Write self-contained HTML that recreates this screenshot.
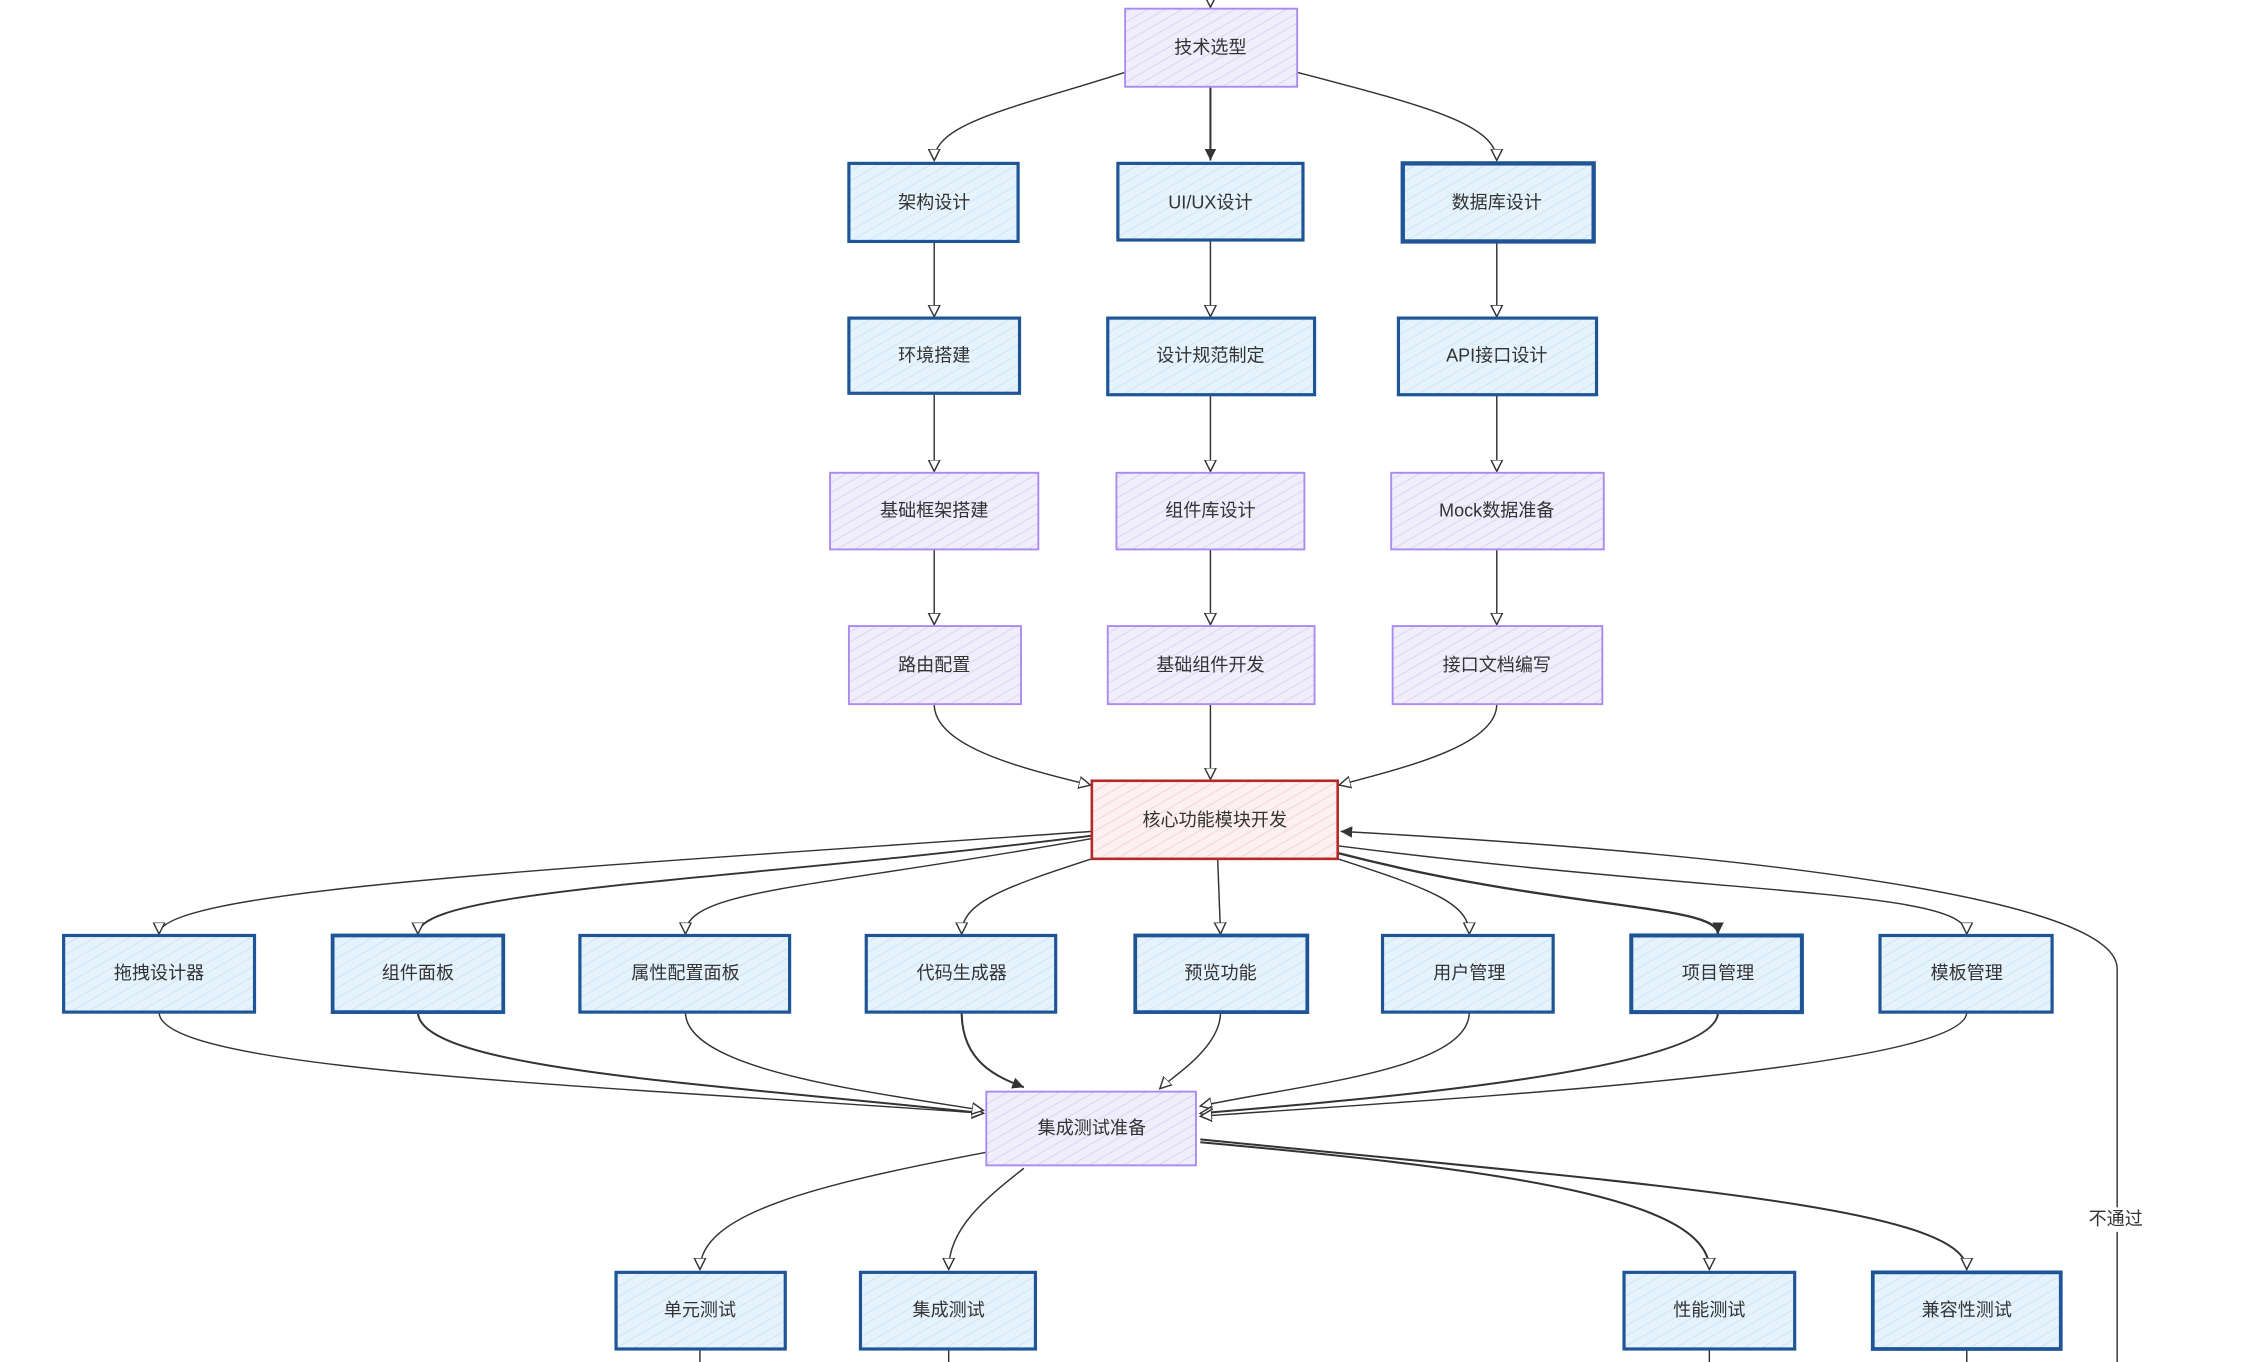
<!DOCTYPE html>
<html><head><meta charset="utf-8"><style>
html,body{margin:0;padding:0;background:#fff;}
svg{display:block;}
text{font-family:"Liberation Sans","Noto Sans CJK SC",sans-serif;font-size:12.5px;fill:#333;text-anchor:middle;dominant-baseline:central;}
</style></head><body>
<svg width="2256" height="1362" viewBox="0 0 1560 942" preserveAspectRatio="none" xmlns="http://www.w3.org/2000/svg">
<defs>
<pattern id="hb" width="6" height="6" patternUnits="userSpaceOnUse" patternTransform="rotate(60)"><rect width="6" height="6" fill="#e6f3fc"/><line x1="0" y1="0" x2="0" y2="6" stroke="#cfe6f8" stroke-width="1.5"/></pattern>
<pattern id="hp" width="6" height="6" patternUnits="userSpaceOnUse" patternTransform="rotate(60)"><rect width="6" height="6" fill="#f1eefc"/><line x1="0" y1="0" x2="0" y2="6" stroke="#ddd5f7" stroke-width="1.5"/></pattern>
<pattern id="hr" width="6" height="6" patternUnits="userSpaceOnUse" patternTransform="rotate(60)"><rect width="6" height="6" fill="#fdf0f0"/><line x1="0" y1="0" x2="0" y2="6" stroke="#f8d6d8" stroke-width="1.5"/></pattern>
<marker id="a" markerWidth="10" markerHeight="10" refX="8" refY="5" orient="auto" markerUnits="userSpaceOnUse"><path d="M0,1 L8,5 L0,9 Z" fill="#fff" stroke="#333" stroke-width="1"/></marker>
<marker id="f" markerWidth="10" markerHeight="10" refX="8" refY="5" orient="auto" markerUnits="userSpaceOnUse"><path d="M0,1 L8,5 L0,9 Z" fill="#333"/></marker>
</defs>
<g fill="none" stroke="#333" stroke-width="1" marker-end="url(#a)">
<path d="M837,-4 L837,5"/>
<path d="M778,50 C700,75 646,85 646,111"/>
<path d="M837,60 L837,111" marker-end="url(#f)" stroke-width="1.4"/>
<path d="M897,50 C980,72 1035,85 1035,111"/>
<path d="M646,167 L646,219"/><path d="M837,167 L837,219"/><path d="M1035,167 L1035,219"/>
<path d="M646,273 L646,326"/><path d="M837,273 L837,326"/><path d="M1035,273 L1035,326"/>
<path d="M646,380 L646,432"/><path d="M837,380 L837,432"/><path d="M1035,380 L1035,432"/>
<path d="M646,487 C646,515 700,530 754,543"/>
<path d="M837,487 L837,539"/>
<path d="M1035,487 C1035,515 975,530 926,543"/>
<path d="M755,575 C400,600 110,615 110,646"/>
<path d="M755,578 C500,610 289,615 289,646" stroke-width="1.3"/>
<path d="M755,580 C560,615 474,615 474,646"/>
<path d="M755,594 C690,615 665,625 665,646"/>
<path d="M842,594 L844,646"/>
<path d="M925,594 C990,615 1016,625 1016,646"/>
<path d="M925,590 C1080,630 1188,625 1188,646" stroke-width="1.6" marker-end="url(#f)"/>
<path d="M925,585 C1200,620 1360,615 1360,646"/>
<path d="M110,700 C110,740 400,750 680,770"/>
<path d="M289,700 C289,740 500,750 680,770" stroke-width="1.4"/>
<path d="M474,700 C474,740 600,755 680,768"/>
<path d="M665,700 C665,735 690,745 708,752" stroke-width="1.4" marker-end="url(#f)"/>
<path d="M844,700 C844,725 810,745 802,753"/>
<path d="M1016,700 C1016,740 900,750 830,765"/>
<path d="M1188,700 C1188,740 950,760 830,770" stroke-width="1.4"/>
<path d="M1360,700 C1360,740 1000,760 830,772"/>
<path d="M682,797 C560,820 484,840 484,878"/>
<path d="M708,808 C680,830 656,850 656,878"/>
<path d="M830,790 C1050,810 1182,830 1182,878" stroke-width="1.4"/>
<path d="M830,788 C1150,820 1360,835 1360,878" stroke-width="1.4"/>
<path d="M1464,950 L1464,670 C1464,620 1200,590 927,575" marker-end="url(#f)"/>
</g>
<g fill="none" stroke="#333" stroke-width="1">
<path d="M484,933 L484,945"/><path d="M656,933 L656,945"/><path d="M1182,933 L1182,945"/><path d="M1360,933 L1360,945"/>
</g>
<rect x="1443" y="835" width="42" height="17" fill="#fff"/>
<text x="1463" y="843">不通过</text>
<g stroke-width="2.2">
<rect x="778" y="6" width="119" height="54" fill="url(#hp)" stroke="#a98bf0" stroke-width="1.3"/><text x="837" y="33">技术选型</text>
<rect x="587" y="113" width="117" height="54" fill="url(#hb)" stroke="#1f5597"/><text x="646" y="140">架构设计</text>
<rect x="773" y="113" width="128" height="53" fill="url(#hb)" stroke="#1f5597"/><text x="837" y="140">UI/UX设计</text>
<rect x="970" y="113" width="132" height="54" fill="url(#hb)" stroke="#1f5597" stroke-width="3"/><text x="1035" y="140">数据库设计</text>
<rect x="587" y="220" width="118" height="52" fill="url(#hb)" stroke="#1f5597"/><text x="646" y="246">环境搭建</text>
<rect x="766" y="220" width="143" height="53" fill="url(#hb)" stroke="#1f5597"/><text x="837" y="246">设计规范制定</text>
<rect x="967" y="220" width="137" height="53" fill="url(#hb)" stroke="#1f5597"/><text x="1035" y="246">API接口设计</text>
<rect x="574" y="327" width="144" height="53" fill="url(#hp)" stroke="#a98bf0" stroke-width="1.3"/><text x="646" y="353">基础框架搭建</text>
<rect x="772" y="327" width="130" height="53" fill="url(#hp)" stroke="#a98bf0" stroke-width="1.3"/><text x="837" y="353">组件库设计</text>
<rect x="962" y="327" width="147" height="53" fill="url(#hp)" stroke="#a98bf0" stroke-width="1.3"/><text x="1035" y="353">Mock数据准备</text>
<rect x="587" y="433" width="119" height="54" fill="url(#hp)" stroke="#a98bf0" stroke-width="1.3"/><text x="646" y="460">路由配置</text>
<rect x="766" y="433" width="143" height="54" fill="url(#hp)" stroke="#a98bf0" stroke-width="1.3"/><text x="837" y="460">基础组件开发</text>
<rect x="963" y="433" width="145" height="54" fill="url(#hp)" stroke="#a98bf0" stroke-width="1.3"/><text x="1035" y="460">接口文档编写</text>
<rect x="755" y="540" width="170" height="54" fill="url(#hr)" stroke="#b32a2a" stroke-width="1.8"/><text x="840" y="567">核心功能模块开发</text>
<rect x="44" y="647" width="132" height="53" fill="url(#hb)" stroke="#1f5597"/><text x="110" y="673">拖拽设计器</text>
<rect x="230" y="647" width="118" height="53" fill="url(#hb)" stroke="#1f5597" stroke-width="2.6"/><text x="289" y="673">组件面板</text>
<rect x="401" y="647" width="145" height="53" fill="url(#hb)" stroke="#1f5597"/><text x="474" y="673">属性配置面板</text>
<rect x="599" y="647" width="131" height="53" fill="url(#hb)" stroke="#1f5597"/><text x="665" y="673">代码生成器</text>
<rect x="785" y="647" width="119" height="53" fill="url(#hb)" stroke="#1f5597" stroke-width="2.6"/><text x="844" y="673">预览功能</text>
<rect x="956" y="647" width="118" height="53" fill="url(#hb)" stroke="#1f5597"/><text x="1016" y="673">用户管理</text>
<rect x="1128" y="647" width="118" height="53" fill="url(#hb)" stroke="#1f5597" stroke-width="2.8"/><text x="1188" y="673">项目管理</text>
<rect x="1300" y="647" width="119" height="53" fill="url(#hb)" stroke="#1f5597"/><text x="1360" y="673">模板管理</text>
<rect x="682" y="755" width="145" height="51" fill="url(#hp)" stroke="#a98bf0" stroke-width="1.3"/><text x="755" y="780">集成测试准备</text>
<rect x="426" y="880" width="117" height="53" fill="url(#hb)" stroke="#1f5597"/><text x="484" y="906">单元测试</text>
<rect x="595" y="880" width="121" height="53" fill="url(#hb)" stroke="#1f5597"/><text x="656" y="906">集成测试</text>
<rect x="1123" y="880" width="118" height="53" fill="url(#hb)" stroke="#1f5597"/><text x="1182" y="906">性能测试</text>
<rect x="1295" y="880" width="130" height="53" fill="url(#hb)" stroke="#1f5597" stroke-width="2.6"/><text x="1360" y="906">兼容性测试</text>
</g>
</svg>
</body></html>
